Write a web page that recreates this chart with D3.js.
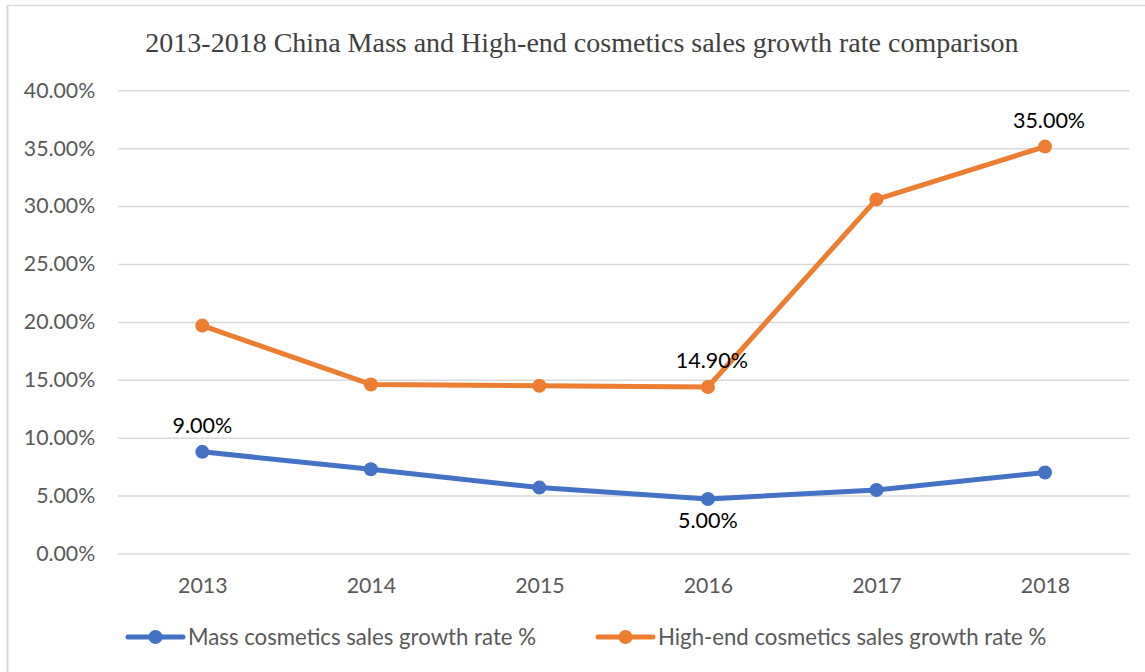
<!DOCTYPE html>
<html>
<head>
<meta charset="utf-8">
<script src="https://cdn.jsdelivr.net/npm/d3@7"></script>
<style>
  html, body { margin: 0; padding: 0; background: #fff; }
  svg { display: block; }
</style>
</head>
<body>
<svg id="chart" width="1145" height="672"></svg>
<script>
const titleText = "2013-2018 China Mass and High-end cosmetics sales growth rate comparison";
const years = ["2013", "2014", "2015", "2016", "2017", "2018"];
const massValues = [8.78, 7.28, 5.69, 4.71, 5.49, 6.99];
const highEndValues = [19.68, 14.6, 14.48, 14.38, 30.58, 35.14];
const massLabels = ["9.00%", null, null, "5.00%", null, null];
const highEndLabels = [null, null, null, "14.90%", null, "35.00%"];
const yTicks = [0, 5, 10, 15, 20, 25, 30, 35, 40];
const seriesNames = ["Mass cosmetics sales growth rate %", "High-end cosmetics sales growth rate %"];

const colors = ["#4472C4", "#ED7D31"];
const svg = d3.select("#chart");

// outer frame
svg.append("line").attr("x1", 7).attr("x2", 1145).attr("y1", 5.5).attr("y2", 5.5)
  .attr("stroke", "#d9d9d9").attr("stroke-width", 1.5);
svg.append("line").attr("x1", 7.5).attr("x2", 7.5).attr("y1", 5).attr("y2", 672)
  .attr("stroke", "#d9d9d9").attr("stroke-width", 2);

const x = d3.scalePoint().domain(years).range([202.3, 1045]);
const y = d3.scaleLinear().domain([0, 40]).range([553.5, 90.3]);
const gridLeft = 118.3, gridRight = 1129.3;
const sansFont = "Lato, 'Open Sans', sans-serif";

// title
svg.append("text")
  .attr("x", 582).attr("y", 52)
  .attr("text-anchor", "middle")
  .attr("font-family", "'Liberation Serif', 'Times New Roman', serif")
  .attr("font-size", 28)
  .attr("fill", "#404040")
  .text(titleText);

// gridlines + y axis labels
const yAxis = d3.axisLeft(y).tickValues(yTicks)
  .tickSize(-(gridRight - gridLeft))
  .tickPadding(23)
  .tickFormat(d => d.toFixed(2) + "%");
const gy = svg.append("g").attr("transform", `translate(${gridLeft},0)`).call(yAxis);
gy.select(".domain").remove();
gy.selectAll(".tick line").attr("stroke", "#d9d9d9").attr("stroke-width", 1.5);
gy.selectAll(".tick text")
  .attr("font-family", sansFont)
  .attr("font-size", 21.3)
  .attr("fill", "#595959");

// x axis labels
const xAxis = d3.axisBottom(x).tickSize(0).tickPadding(24);
const gx = svg.append("g").attr("transform", `translate(0,${y(0)})`).call(xAxis);
gx.select(".domain").remove();
gx.selectAll(".tick text")
  .attr("font-family", sansFont)
  .attr("font-size", 21.3)
  .attr("fill", "#595959");

// series
const series = [
  { values: massValues, labels: massLabels, color: colors[0] },
  { values: highEndValues, labels: highEndLabels, color: colors[1] }
];
const line = d3.line().x((d, i) => x(years[i])).y(d => y(d));

series.forEach(s => {
  svg.append("path").datum(s.values)
    .attr("d", line)
    .attr("fill", "none")
    .attr("stroke", s.color)
    .attr("stroke-width", 5)
    .attr("stroke-linejoin", "round")
    .attr("stroke-linecap", "round");
  svg.selectAll(null).data(s.values).enter().append("circle")
    .attr("cx", (d, i) => x(years[i]))
    .attr("cy", d => y(d))
    .attr("r", 7)
    .attr("fill", s.color);
});

// data labels
series.forEach((s, si) => {
  s.values.forEach((v, i) => {
    const t = s.labels[i];
    if (!t) return;
    const px = x(years[i]);
    const py = y(v);
    const below = (si === 0 && i === 3);
    svg.append("text")
      .attr("x", px + (si === 1 ? 4 : 0))
      .attr("y", below ? py + 29 : py - 19)
      .attr("text-anchor", "middle")
      .attr("font-family", sansFont)
      .attr("font-size", 21.5)
      .attr("fill", "#000")
      .text(t);
  });
});

// legend
const legendItems = [
  { x0: 128, name: seriesNames[0], color: colors[0] },
  { x0: 598, name: seriesNames[1], color: colors[1] }
];
const ly = 637;
legendItems.forEach(li => {
  svg.append("line").attr("x1", li.x0).attr("x2", li.x0 + 55)
    .attr("y1", ly).attr("y2", ly)
    .attr("stroke", li.color).attr("stroke-width", 5).attr("stroke-linecap", "round");
  svg.append("circle").attr("cx", li.x0 + 27.5).attr("cy", ly).attr("r", 7).attr("fill", li.color);
  svg.append("text").attr("x", li.x0 + 60).attr("y", ly + 8)
    .attr("font-family", sansFont)
    .attr("font-size", 22.2)
    .attr("fill", "#595959")
    .text(li.name);
});
</script>
</body>
</html>
